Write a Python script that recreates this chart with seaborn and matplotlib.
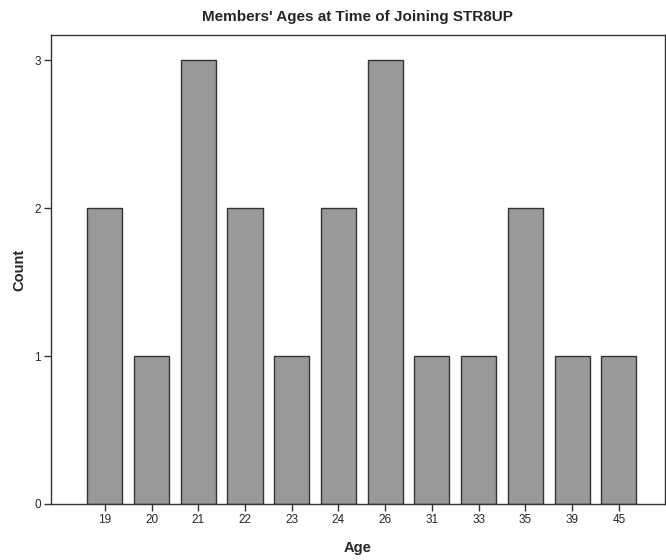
import matplotlib
matplotlib.use("Agg")
import matplotlib.pyplot as plt
import seaborn as sns
import pandas as pd

ages = ["19", "20", "21", "22", "23", "24", "26", "31", "33", "35", "39", "45"]
counts = [2, 1, 3, 2, 1, 2, 3, 1, 1, 2, 1, 1]

sns.set_style("white")
plt.rcParams["font.family"] = ["Liberation Sans", "DejaVu Sans"]

df = pd.DataFrame({"Age": ages, "Count": counts})

fig = plt.figure(figsize=(6.66, 5.6), dpi=100)
ax = fig.add_axes([0.076, 0.1, 0.922, 0.8375])

sns.barplot(data=df, x="Age", y="Count", order=ages, color="#999999",
            saturation=1, width=0.75, edgecolor="#333333", linewidth=1.0, ax=ax)

ax.set_xlim(-1.16, 11.98)
ax.set_ylim(0, 3.17)
ax.set_yticks([0, 1, 2, 3])
ax.set_yticklabels(["0", "1", "2", "3"])

for s in ax.spines.values():
    s.set_color("#333333")
    s.set_linewidth(1.0)
    s.set_visible(True)

ax.tick_params(axis="both", direction="out", length=5, width=1, color="#333333",
               labelsize=8.5, pad=2, left=True, bottom=True)

ax.set_xlabel("Age", fontsize=10.5, fontweight="bold", labelpad=11)
ax.set_ylabel("Count", fontsize=10.5, fontweight="bold", labelpad=6)
ax.set_title("Members' Ages at Time of Joining STR8UP", fontsize=11, fontweight="bold", pad=10)

fig.savefig("out.png", dpi=100)
